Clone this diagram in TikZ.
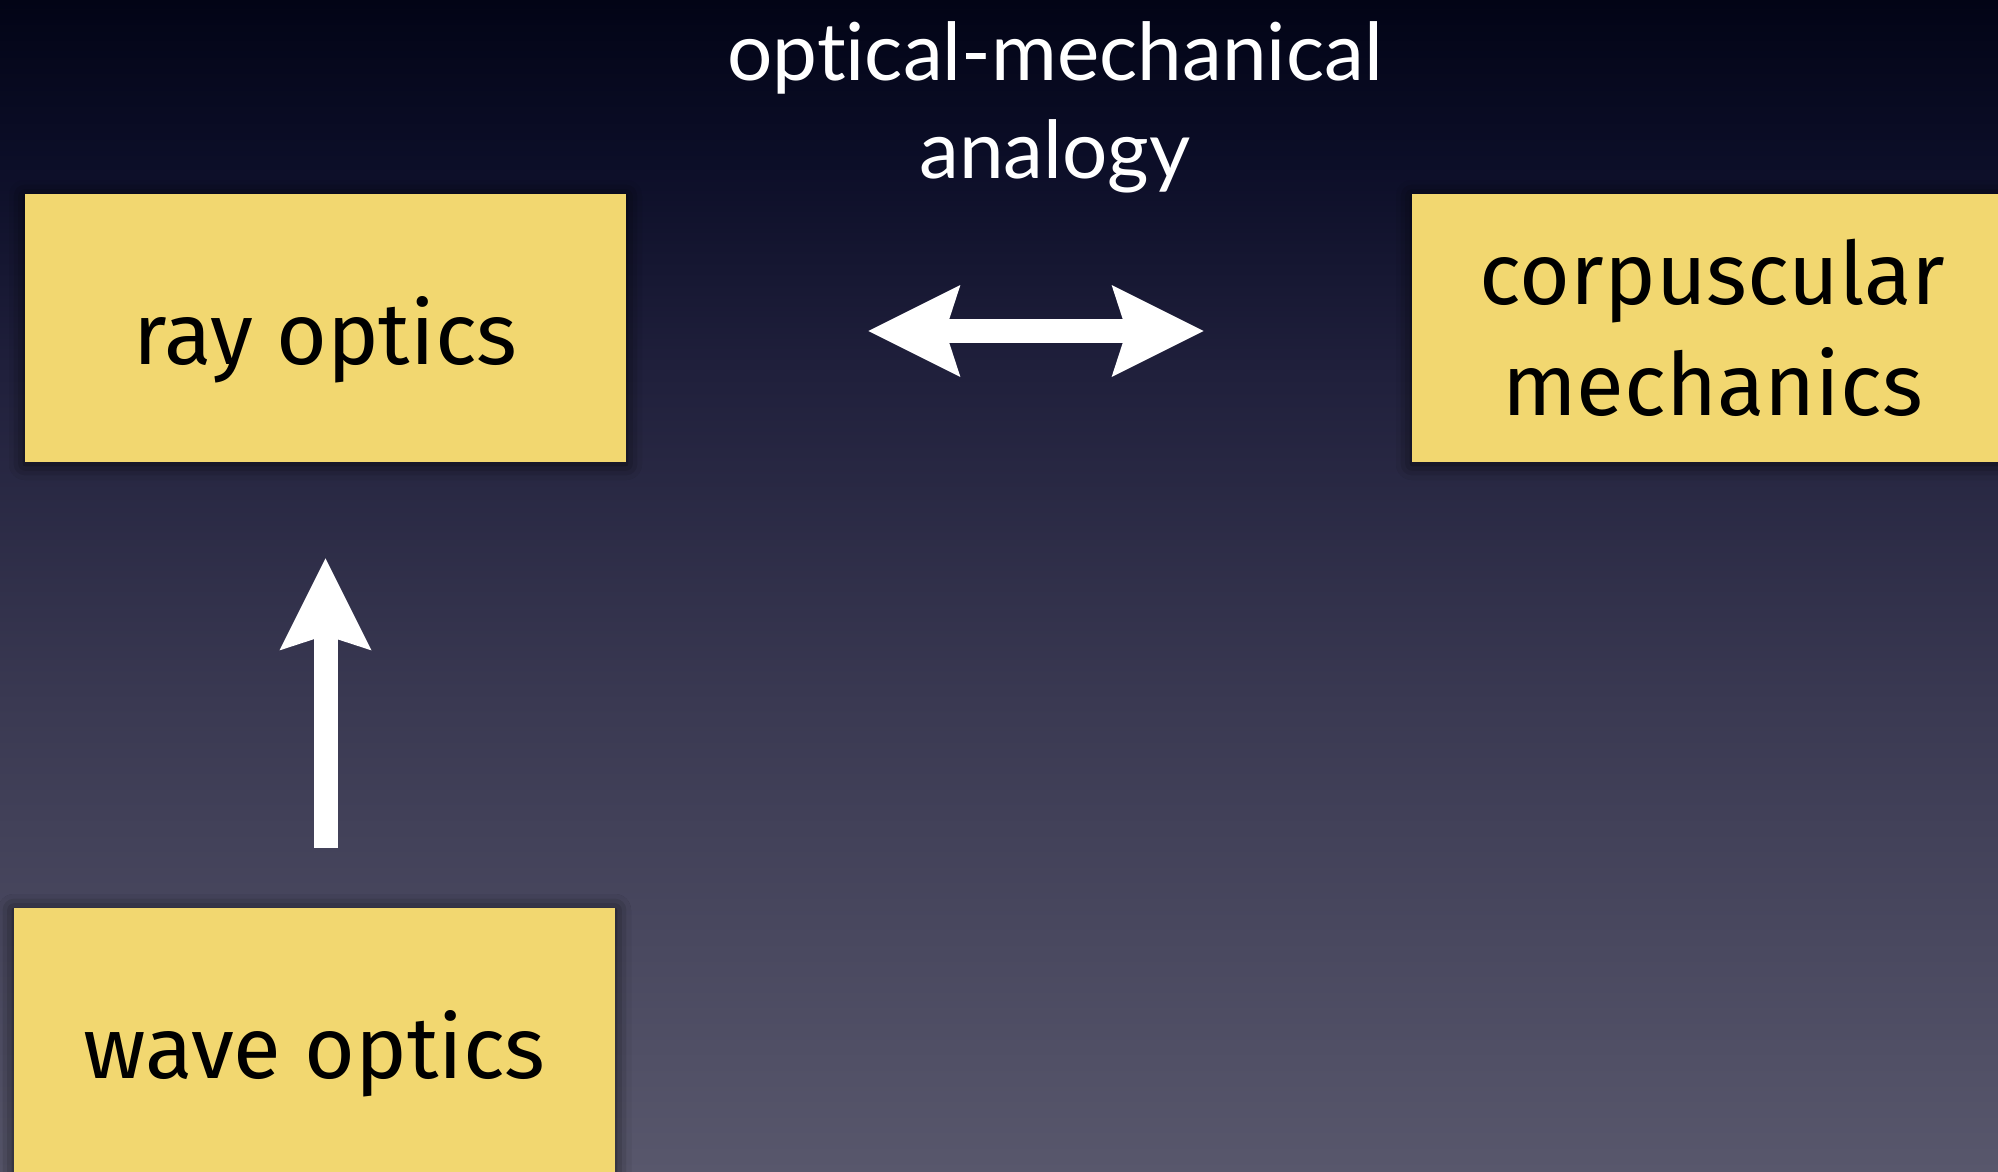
\documentclass[tikz,border=0pt]{standalone}
\usepackage{fontspec}
\usetikzlibrary{arrows.meta,shadows.blur}
\newfontfamily\titlefont[Ligatures={NoCommon,NoDiscretionary}]{Lato}
\newfontfamily\boxfont{Fira Sans}

\definecolor{bgtop}{RGB}{2,4,22}
\definecolor{bgupper}{RGB}{12,14,40}
\definecolor{bgmid}{RGB}{32,32,60}
\definecolor{bglow}{RGB}{58,57,82}
\definecolor{bgbot}{RGB}{88,87,108}
\definecolor{notefill}{RGB}{242,215,112}

% vertical backdrop shading, listed from bottom to top;
% the filled rectangle spans the middle band 25bp--75bp
\pgfdeclareverticalshading{backdrop}{100bp}{%
  color(0bp)=(bgbot); color(25bp)=(bgbot); color(45bp)=(bglow);
  color(59bp)=(bgmid); color(68bp)=(bgupper); color(75bp)=(bgtop);
  color(100bp)=(bgtop)}

\tikzset{
  notebox/.style={fill=notefill, minimum width=300.5pt, minimum height=134pt,
    inner sep=0pt, align=center,
    font=\boxfont\fontsize{43.6}{55.5}\selectfont,
    blur shadow={shadow xshift=0pt, shadow yshift=-1pt,
      shadow blur radius=8pt, shadow opacity=75}},
  oneline/.style={text height=36pt, text depth=0pt},
  titletext/.style={text=white, align=center,
    font=\titlefont\fontsize{40}{49}\selectfont},
  bigarrow/.style={draw=white, line width=12pt,
    -{Stealth[length=46pt, width=46pt, inset=7.5pt, line width=0pt]}},
  bigdouble/.style={draw=white, line width=12pt,
    {Stealth[length=46pt, width=46pt, inset=7.5pt, line width=0pt]}-{Stealth[length=46pt, width=46pt, inset=7.5pt, line width=0pt]}}
}

\begin{document}
\begin{tikzpicture}[x=0.5pt, y=-0.5pt]
  \useasboundingbox (0,0) rectangle (1998,1172);
  \shade[shading=backdrop] (0,0) rectangle (1998,1172);

  \node[titletext, anchor=base] (title) at (1055,178) {optical-mechanical\\analogy};

  \node[notebox, oneline] (ray) at (325.5,328) {ray optics};
  \node[notebox] (corp) at (1712.5,328) {corpuscular\\mechanics};
  \node[notebox, oneline] (wave) at (314.5,1042) {wave optics};

  % optical-mechanical analogy between ray optics and mechanics
  \draw[bigdouble, shorten <=121pt, shorten >=104pt]
    ([yshift=-1.5pt]ray.east) -- ([yshift=-1.5pt]corp.west);
  % ray optics as a limit of wave optics
  \draw[bigarrow, shorten <=30pt, shorten >=48pt]
    (ray.south |- wave.north) -- (ray.south);
\end{tikzpicture}
\end{document}
